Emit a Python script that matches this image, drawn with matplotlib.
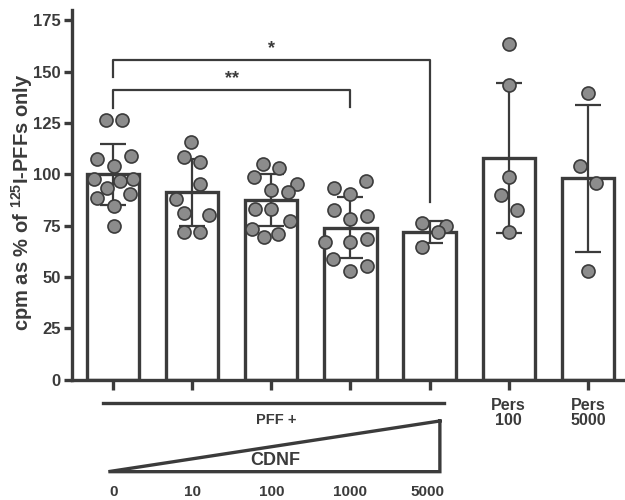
import numpy as np
import matplotlib
matplotlib.use('Agg')
import matplotlib.pyplot as plt

plt.rcParams['font.family'] = ['Liberation Sans', 'DejaVu Sans']
plt.rcParams['font.weight'] = 'bold'
plt.rcParams['mathtext.fontset'] = 'custom'
plt.rcParams['mathtext.bf'] = 'Liberation Sans:bold'
plt.rcParams['mathtext.rm'] = 'Liberation Sans:bold'

# ------------------------ data ------------------------
groups = ["0", "10", "100", "1000", "5000", "Pers\n100", "Pers\n5000"]
cdnf_doses = ["0", "10", "100", "1000", "5000"]
means = [100.0, 91.2, 87.3, 74.0, 72.0, 108.0, 98.0]
sds = [14.8, 16.4, 12.7, 14.7, 5.3, 36.6, 35.7]

points = [
    [126.4, 126.4, 107.4, 109.0, 104.1, 97.7, 96.7, 97.7, 93.4, 88.3, 90.5, 84.4, 74.9],
    [115.8, 108.5, 106.1, 95.1, 87.9, 81.2, 80.1, 72.0, 72.0],
    [105.0, 102.9, 98.8, 95.1, 92.3, 91.5, 83.0, 83.0, 77.4, 73.2, 69.6, 70.9],
    [96.7, 93.1, 90.4, 82.6, 78.2, 79.6, 67.1, 66.8, 68.3, 58.7, 53.0, 55.3],
    [76.4, 74.8, 71.8, 64.4],
    [163.3, 143.4, 98.8, 89.9, 82.6, 72.0],
    [139.7, 104.0, 95.9, 53.0],
]
# horizontal scatter of the dots (in bar units)
jitter = [
    [-0.09, 0.11, -0.2, 0.22, 0.01, -0.24, 0.09, 0.25, -0.08, -0.2, 0.21, 0.01, 0.01],
    [-0.01, -0.11, 0.1, 0.1, -0.21, -0.11, 0.21, -0.11, 0.1],
    [-0.11, 0.1, -0.22, 0.32, 0.0, 0.21, -0.21, 0.0, 0.24, -0.25, -0.09, 0.08],
    [0.2, -0.21, 0.0, -0.21, 0.0, 0.21, -0.32, 0.0, 0.21, -0.22, 0.0, 0.21],
    [-0.1, 0.21, 0.1, -0.1],
    [0.0, 0.0, 0.0, -0.1, 0.1, 0.0],
    [0.0, -0.1, 0.1, 0.0],
]

# significance brackets: (left bar, right bar, height, left drop, right drop, label)
brackets = [
    (0, 4, 155.6, 147.5, 86.6, "*"),
    (0, 3, 141.0, 132.4, 132.6, "**"),
]

dark = "#3b3b3b"
dot = "#8c8c8c"

# ------------------------ plotting ------------------------
fig = plt.figure(figsize=(6.25, 5), dpi=100)
ax = fig.add_axes([0.1152, 0.241, 0.8848, 0.739])

x = np.arange(len(groups))
ax.bar(x, means, width=0.66, color="white", edgecolor=dark, linewidth=2.4, zorder=1)
ax.errorbar(x, means, yerr=sds, fmt="none", ecolor=dark, elinewidth=1.6,
            capsize=9.5, capthick=1.6, zorder=2)
for i, (vals, jit) in enumerate(zip(points, jitter)):
    ax.scatter(i + np.array(jit), vals, s=88, color=dot, edgecolor=dark,
               linewidth=1.2, zorder=3)

for l, r, h, dl, dr, lab in brackets:
    ax.plot([l, l, r, r], [dl, h, h, dr], color=dark, lw=1.6, zorder=2)
    ax.text((l + r) / 2, h + 1.5, lab, ha="center", va="bottom", fontsize=13,
            fontweight="bold", color=dark)

ax.set_xlim(-0.52, 6.47)
ax.set_ylim(0, 180)
ax.set_yticks(np.arange(0, 176, 25))
ax.set_xticks(x)
ax.set_xticklabels(["", "", "", "", "", groups[5], groups[6]], linespacing=1.05)

for s in ["top", "right"]:
    ax.spines[s].set_visible(False)
for s in ["left", "bottom"]:
    ax.spines[s].set_linewidth(2.4)
    ax.spines[s].set_color(dark)
ax.spines["left"].set_bounds(0, 180)
ax.tick_params(axis="y", length=6, width=2.4, color=dark, labelsize=12, pad=2)
ax.tick_params(axis="x", length=7, width=2.4, color=dark, labelsize=11.5, pad=6)
for t in ax.get_xticklabels() + ax.get_yticklabels():
    t.set_fontweight("bold")
    t.set_color(dark)

ax.set_ylabel(r"cpm as % of $^{\mathbf{125}}$I-PFFs only", fontsize=14.5,
              fontweight="bold", color=dark)
ax.yaxis.set_label_coords(-0.067, 0.48)

# PFF + bar and CDNF wedge under the first five groups
ax.plot([-0.126, 4.18], [-11.6, -11.6], color=dark, lw=2.4, clip_on=False)
ax.text(2.06, -19.7, "PFF +", ha="center", va="center", fontsize=10.5,
        fontweight="bold", color=dark)
ax.plot([4.13, -0.06, 4.13, 4.13], [-20.2, -44.9, -44.9, -20.2], color=dark,
        lw=2.4, clip_on=False, solid_joinstyle="miter")
ax.text(2.05, -39.7, "CDNF", ha="center", va="center", fontsize=13,
        fontweight="bold", color=dark)
for i, d in enumerate(cdnf_doses):
    ax.text(i - 0.03 * (i == 4), -54.8, d, ha="center", va="center", fontsize=11,
            fontweight="bold", color=dark)

fig.savefig("out.png", dpi=100)
